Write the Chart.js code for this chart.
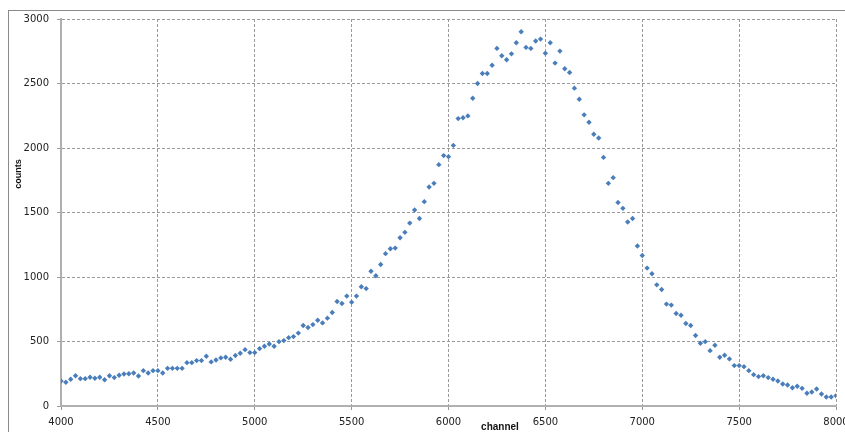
<!DOCTYPE html>
<html>
<head>
<meta charset="utf-8">
<script src="https://cdn.jsdelivr.net/npm/chart.js@4"></script>
<style>
  body { margin: 0; background: #fff; overflow: hidden; }
  #wrap { position: relative; width: 845px; height: 432px; }
  #frame { position: absolute; left: 8px; top: 10px; width: 900px; height: 500px; border: 1px solid #8a8a8a; }
  #chart { position: absolute; left: 0; top: 0; }
</style>
</head>
<body>
<div id="wrap">
  <div id="frame"></div>
  <canvas id="chart" width="845" height="432"></canvas>
</div>
<script>
// channel numbers (x)
var channels = [
  4000, 4025, 4050, 4075, 4100, 4125, 4150, 4175, 4200, 4225, 4250, 4275, 4300, 4325, 4350, 4375,
  4400, 4425, 4450, 4475, 4500, 4525, 4550, 4575, 4600, 4625, 4650, 4675, 4700, 4725, 4750, 4775,
  4800, 4825, 4850, 4875, 4900, 4925, 4950, 4975, 5000, 5025, 5050, 5075, 5100, 5125, 5150, 5175,
  5200, 5225, 5250, 5275, 5300, 5325, 5350, 5375, 5400, 5425, 5450, 5475, 5500, 5525, 5550, 5575,
  5600, 5625, 5650, 5675, 5700, 5725, 5750, 5775, 5800, 5825, 5850, 5875, 5900, 5925, 5950, 5975,
  6000, 6025, 6050, 6075, 6100, 6125, 6150, 6175, 6200, 6225, 6250, 6275, 6300, 6325, 6350, 6375,
  6400, 6425, 6450, 6475, 6500, 6525, 6550, 6575, 6600, 6625, 6650, 6675, 6700, 6725, 6750, 6775,
  6800, 6825, 6850, 6875, 6900, 6925, 6950, 6975, 7000, 7025, 7050, 7075, 7100, 7125, 7150, 7175,
  7200, 7225, 7250, 7275, 7300, 7325, 7350, 7375, 7400, 7425, 7450, 7475, 7500, 7525, 7550, 7575,
  7600, 7625, 7650, 7675, 7700, 7725, 7750, 7775, 7800, 7825, 7850, 7875, 7900, 7925, 7950, 7975,
  8000
];

// counts per channel (y)
var counts = [
  194, 184, 207, 235, 212, 212, 223, 215, 223, 204, 235, 220, 238, 248, 250, 256,
  233, 274, 256, 274, 274, 256, 292, 292, 292, 292, 336, 336, 352, 352, 386, 342,
  357, 373, 378, 362, 391, 409, 437, 414, 414, 445, 463, 481, 463, 499, 507, 530,
  538, 565, 624, 608, 631, 665, 644, 681, 725, 810, 794, 852, 805, 852, 925, 910,
  1045, 1010, 1097, 1181, 1219, 1224, 1304, 1346, 1418, 1519, 1454, 1584, 1698, 1726, 1871, 1941,
  1933, 2020, 2228, 2234, 2249, 2386, 2500, 2578, 2578, 2642, 2772, 2715, 2684, 2730, 2816, 2901,
  2780, 2772, 2829, 2844, 2735, 2816, 2658, 2751, 2614, 2585, 2464, 2378, 2257, 2200, 2107, 2078,
  1927, 1726, 1770, 1578, 1532, 1426, 1454, 1240, 1167, 1069, 1025, 939, 903, 790, 782, 717,
  704, 639, 624, 546, 487, 499, 429, 471, 378, 393, 365, 313, 313, 305, 274, 243,
  228, 235, 220, 207, 194, 171, 163, 142, 153, 137, 99, 109, 132, 93, 70, 70,
  80
];

var xTitle = 'channel';
var yTitle = 'counts';

var points = channels.map(function (c, i) {
  return { x: c, y: counts[i] };
});

// axis titles sit where Excel put them, not where Chart.js would
var titlePlugin = {
  id: 'titles',
  afterDraw: function (chart) {
    var ctx = chart.ctx;
    ctx.save();
    ctx.fillStyle = '#111';
    ctx.textAlign = 'center';
    ctx.textBaseline = 'middle';
    ctx.font = 'bold 10px "Liberation Sans", Arial, sans-serif';
    ctx.fillText(xTitle, 500, 427);
    ctx.translate(18.5, 174);
    ctx.rotate(-Math.PI / 2);
    ctx.font = 'bold 9px "Liberation Sans", Arial, sans-serif';
    ctx.fillText(yTitle, 0, 0);
    ctx.restore();
  }
};

var gridOpts = {
  color: '#999',
  lineWidth: 1,
  tickLength: 4,
  tickColor: '#999'
};

var ctx = document.getElementById('chart').getContext('2d');
var myChart = new Chart(ctx, {
  type: 'scatter',
  data: {
    datasets: [{
      label: 'counts',
      data: points,
      pointStyle: 'rectRot',
      pointRadius: 2.7,
      borderWidth: 0,
      backgroundColor: '#4A7EBB',
      borderColor: '#4A7EBB'
    }]
  },
  options: {
    responsive: false,
    animation: false,
    devicePixelRatio: 1,
    layout: { padding: { top: 19, right: 9, left: 0, bottom: 0 } },
    plugins: {
      legend: { display: false },
      tooltip: { enabled: false }
    },
    scales: {
      x: {
        type: 'linear',
        min: 4000,
        max: 8000,
        grid: gridOpts,
        border: { display: true, color: '#b0b0b0', width: 2, dash: [3, 2] },
        ticks: {
          stepSize: 500,
          color: '#222',
          padding: 6,
          maxRotation: 0,
          font: { family: 'DejaVu Sans', size: 10 },
          callback: function (v) { return String(v); }
        },
        afterFit: function (scale) {
          scale.height = 26;
          scale.paddingLeft = 0;
          scale.paddingRight = 0;
        }
      },
      y: {
        type: 'linear',
        min: 0,
        max: 3000,
        grid: gridOpts,
        border: { display: true, color: '#b0b0b0', width: 2, dash: [3, 2] },
        ticks: {
          stepSize: 500,
          color: '#222',
          padding: 8,
          font: { family: 'DejaVu Sans', size: 10 },
          callback: function (v) { return String(v); }
        },
        afterFit: function (scale) {
          scale.width = 61;
          scale.paddingTop = 0;
          scale.paddingBottom = 0;
        }
      }
    }
  },
  plugins: [titlePlugin]
});
</script>
</body>
</html>
